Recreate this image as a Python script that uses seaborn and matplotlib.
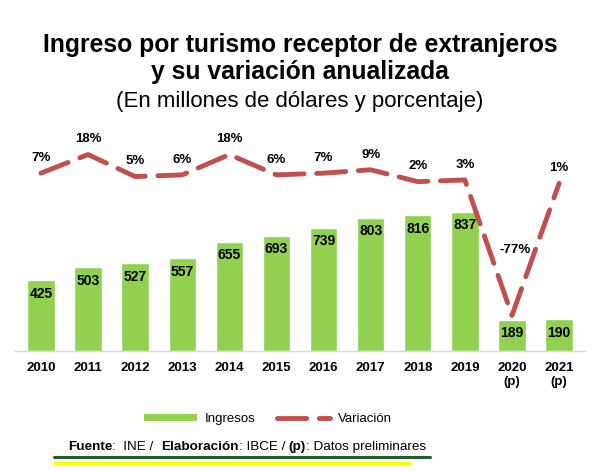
import numpy as np
import pandas as pd
import matplotlib
matplotlib.use("Agg")
import matplotlib.pyplot as plt
import seaborn as sns
from matplotlib.lines import Line2D
from matplotlib.patches import Patch

years = ["2010", "2011", "2012", "2013", "2014", "2015", "2016", "2017", "2018", "2019",
         "2020\n(p)", "2021\n(p)"]
ingresos = [425, 503, 527, 557, 655, 693, 739, 803, 816, 837, 189, 190]
variacion = [7, 18, 5, 6, 18, 6, 7, 9, 2, 3, -77, 1]

green = "#92d050"
red = "#c0504d"

sns.set_theme(style="white")
plt.rcParams["font.family"] = ["Liberation Sans", "DejaVu Sans"]
plt.rcParams["text.color"] = "black"
plt.rcParams["xtick.color"] = "black"

df = pd.DataFrame({"anio": years, "ingresos": ingresos, "variacion": variacion})
df["pos"] = np.arange(len(df))

fig = plt.figure(figsize=(6, 4.71), dpi=100)
ax = fig.add_axes([0.025, 0.2548, 0.95, 0.448])

sns.barplot(data=df, x="anio", y="ingresos", color=green, saturation=1, width=0.58, ax=ax)
ax.set_ylim(0, 1270)
ax.set_xlim(-0.55, len(df) - 0.45)
ax.set_yticks([])
ax.set_xlabel("")
ax.set_ylabel("")
for s in ["top", "right", "left"]:
    ax.spines[s].set_visible(False)
ax.spines["bottom"].set_color("#d9d9d9")
ax.spines["bottom"].set_linewidth(1)
ax.tick_params(axis="x", length=0, pad=8, colors="black")
for lbl in ax.get_xticklabels():
    lbl.set_fontweight("bold")
    lbl.set_fontsize(9.5)

for p, v in zip(df["pos"], df["ingresos"]):
    ax.annotate(str(v), (p, v), xytext=(0, -9.5), textcoords="offset points",
                ha="center", va="center", fontsize=10, fontweight="bold", color="black")

ax2 = ax.twinx()
sns.lineplot(data=df, x="pos", y="variacion", color=red, linewidth=3.5, ax=ax2,
             solid_capstyle="round", dash_capstyle="round")
ax2.lines[0].set_dashes((6, 2.6))
ax2.set_ylim(-98, 26.6)
ax2.set_yticks([])
ax2.set_ylabel("")
ax2.set_xlabel("")
for s in ["top", "right", "left", "bottom"]:
    ax2.spines[s].set_visible(False)

for p, v in zip(df["pos"], df["variacion"]):
    off = (0, 11)
    if v < -50:
        off = (2, 47)
    ax2.annotate(f"{v}%", (p, v), xytext=off, textcoords="offset points",
                 ha="center", va="center", fontsize=9.5, fontweight="bold", color="black")

fig.text(0.5, 1 - 45 / 471, "Ingreso por turismo receptor de extranjeros",
         ha="center", va="center", fontsize=17.8, fontweight="bold")
fig.text(0.5, 1 - 72 / 471, "y su variación anualizada",
         ha="center", va="center", fontsize=17.8, fontweight="bold")
fig.text(0.5, 1 - 101 / 471, "(En millones de dólares y porcentaje)",
         ha="center", va="center", fontsize=16)

handles = [Patch(facecolor=green, edgecolor="none"),
           Line2D([0], [0], color=red, linewidth=3.5, dashes=(6, 2.6), dash_capstyle="round")]
fig.legend(handles, ["Ingresos", "Variación"], loc="center", bbox_to_anchor=(268 / 600, 1 - 419 / 471),
           ncol=2, frameon=False, fontsize=9.5, handlelength=4, handleheight=0.5,
           columnspacing=1.6, handletextpad=0.6)

# footer with mixed weights
renderer = fig.canvas.get_renderer()
parts = [("Fuente", "bold"), (":  INE /  ", "normal"), ("Elaboración", "bold"),
         (": IBCE / ", "normal"), ("(p)", "bold"), (": Datos preliminares", "normal")]
x = 68
for txt, w in parts:
    t = fig.text(x / 600, 1 - 447 / 471, txt, ha="left", va="center", fontsize=9.7, fontweight=w)
    bb = t.get_window_extent(renderer)
    x += bb.width

fig.add_artist(Line2D([54 / 600, 430 / 600], [1 - 457 / 471] * 2, color="#1f5c2e", linewidth=2.2))
fig.add_artist(Line2D([54 / 600, 410 / 600], [1 - 463 / 471] * 2, color="#ffff00", linewidth=2.2))

fig.savefig("out.png", dpi=100)
